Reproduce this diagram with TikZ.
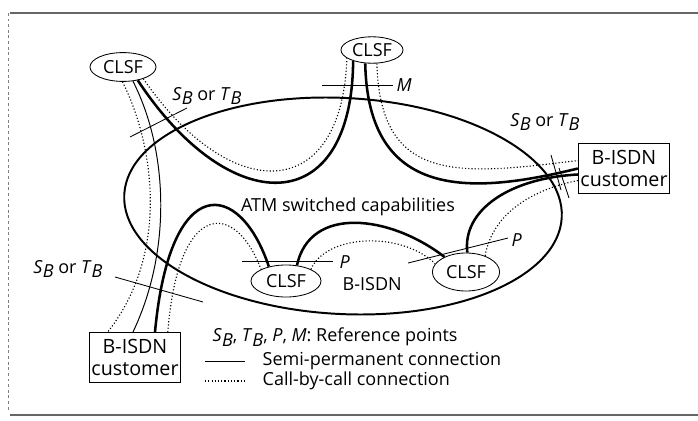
\documentclass[tikz,border=0pt]{standalone}
\usepackage{fontspec}
\setmainfont{Open Sans}
\usetikzlibrary{shapes.geometric}
\newcommand{\refsub}[2]{\textit{#1}\raisebox{-.45ex}{\textit{#2}}}

\begin{document}
\begin{tikzpicture}[x=.025cm,y=-.025cm,font=\fontsize{12.8}{15}\selectfont,
  clsf/.style={draw,ellipse,inner sep=0pt,line width=.6pt},
  custbox/.style={draw,rectangle,align=center,inner sep=1pt,line width=.7pt,
    minimum width=2.28cm,minimum height=1.25cm,font=\fontsize{14}{16}\selectfont},
  semi/.style={line width=1.8pt},
  semithin/.style={line width=.7pt},
  callc/.style={line width=.8pt,dash pattern=on .8pt off 1.5pt},
  refline/.style={line width=.6pt}]
\useasboundingbox (0,0) rectangle (698,421);
% frame of the scan
\draw[black!60,line width=1pt] (10,13) -- (698,13);
\draw[black!50,line width=.4pt,dash pattern=on 2pt off 2pt] (8,13) -- (8,412);
\draw[black!60,line width=1pt] (10,415) -- (698,415);
% network
\node[draw,ellipse,line width=1.4pt,rotate=-3,minimum width=10.95cm,minimum height=5.4cm] (atm) at (343,206) {};
\node (atmlab) at (348,207) {ATM switched capabilities};
\node[clsf,minimum width=1.65cm,minimum height=.72cm] (clsfTL) at (123,67) {CLSF};
\node[clsf,minimum width=1.55cm,minimum height=.66cm] (clsfTC) at (372,50) {CLSF};
\node[clsf,minimum width=1.75cm,minimum height=.8cm] (clsfBC) at (286,281) {CLSF};
\node[clsf,minimum width=1.68cm,minimum height=.95cm] (clsfBR) at (466,272) {CLSF};
\node[custbox] (custR) at (624,168.5) {B-ISDN\\customer};
\node[custbox] (custL) at (135,357.5) {B-ISDN\\customer};
% connections
\draw[semithin] (clsfTL.-55) .. controls (168,150) and (172,250) .. ([xshift=-.05cm]custL.north);
\draw[callc] (clsfTL.-92) .. controls (152,140) and (172,250) .. ([xshift=-.68cm]custL.north);
\draw[semi] ([xshift=.5cm]custL.north) .. controls (170,170) and (240,180) .. (clsfBC.140);
\draw[callc] ([xshift=.82cm]custL.north) .. controls (178,200) and (235,200) .. (clsfBC.155);
\draw[semi] (clsfTL.-42) .. controls (230,220) and (352,220) .. (clsfTC.-150);
\draw[callc] (clsfTL.-30) .. controls (230,205) and (342,205) .. (clsfTC.-162);
\draw[semi] (clsfTC.-117) .. controls (368,200) and (470,195) .. (custR.west);
\draw[callc] (clsfTC.-70) .. controls (380,185) and (460,175) .. ([yshift=.2cm]custR.west);
\draw[semi] ([yshift=-.15cm]custR.west) .. controls (510,178) and (462,210) .. (clsfBR.86);
\draw[callc] ([yshift=-.3cm]custR.west) .. controls (530,190) and (492,215) .. (clsfBR.40);
\draw[semi] (clsfBC.55) .. controls (310,205) and (390,215) .. (clsfBR.145);
\draw[callc] (clsfBC.25) .. controls (325,235) and (400,230) .. (clsfBR.165);
% reference points
\draw[refline] (130,137) -- (187,108);
\node (sbTL) at (207,96) {\refsub{S}{B} or \refsub{T}{B}};
\draw[refline] (322,85) -- (393,85);
\node[anchor=west,inner sep=1pt] (mTC) at (395,85) {\textit{M}};
\draw[refline] (551,155) -- (561,190);
\draw[refline] (559,168) -- (569,198);
\node (sbR) at (545,122) {\refsub{S}{B} or \refsub{T}{B}};
\draw[refline] (115,277) -- (203,302);
\node (sbL) at (68,269) {\refsub{S}{B} or \refsub{T}{B}};
\draw[refline] (242,261) -- (333,261);
\node[anchor=west,inner sep=1pt] (pBC) at (338,262) {\textit{P}};
\node[anchor=west,inner sep=1pt] (bisdn) at (341,284) {B-ISDN};
\draw[refline] (408,263) -- (508,238);
\node[anchor=west,inner sep=1pt] (pBR) at (510,240) {\textit{P}};
% legend
\node[anchor=west,inner sep=1pt] (keyref) at (211,337) {\refsub{S}{B}, \refsub{T}{B}, \textit{P}, \textit{M}: Reference points};
\node[anchor=west,inner sep=1pt] (keysemi) at (261,361) {Semi-permanent connection};
\node[anchor=west,inner sep=1pt] (keycall) at (261,381) {Call-by-call connection};
\draw[semithin] ([xshift=-.4cm]keysemi.west) -- ++(-40,0);
\draw[callc] ([xshift=-.4cm]keycall.west) -- ++(-40,0);
\end{tikzpicture}
\end{document}
